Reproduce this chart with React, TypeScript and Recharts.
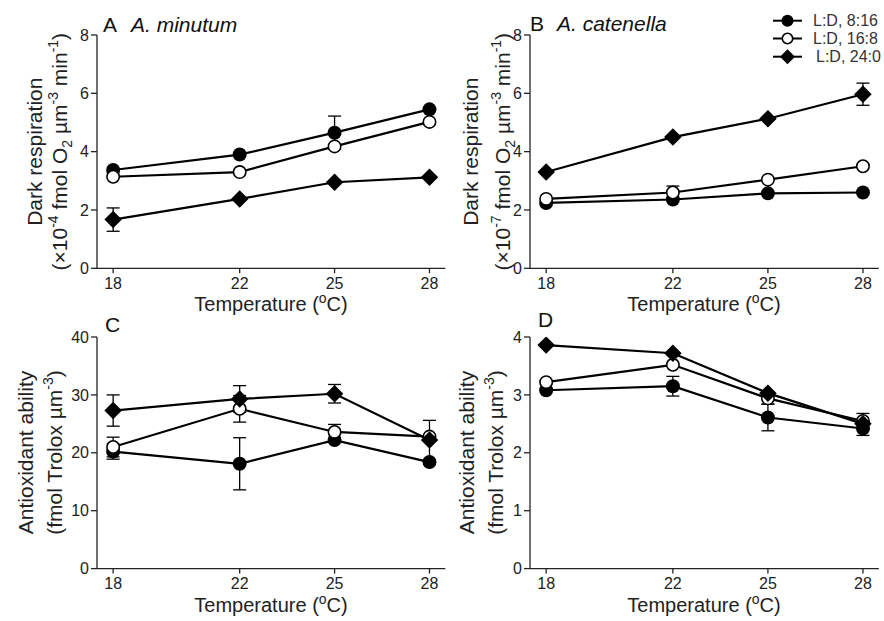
import React from 'react';
import { LineChart, Line, XAxis, YAxis, ErrorBar } from 'recharts';

const FONT = '"Liberation Sans", Arial, sans-serif';

const temps = [18, 22, 25, 28];
const yTicksResp = [0, 2, 4, 6, 8];
const yTicksAntiC = [0, 10, 20, 30, 40];
const yTicksAntiD = [0, 1, 2, 3, 4];

const seriesNames = ['L:D, 8:16', 'L:D, 16:8', 'L:D, 24:0'];
const seriesShapes = ['filled', 'open', 'diamond'];

// A. minutum, dark respiration (x10^-4)
const respMin816 = [3.37, 3.9, 4.65, 5.45];
const respMin168 = [3.14, 3.3, 4.18, 5.02];
const respMin240 = [1.67, 2.38, 2.95, 3.12];
const respMin816Err = [0, 0, 0.57, 0];
const respMin168Err = [0, 0, 0, 0];
const respMin240Err = [0.4, 0, 0, 0];

// A. catenella, dark respiration (x10^-7)
const respCat816 = [2.24, 2.36, 2.57, 2.6];
const respCat168 = [2.38, 2.6, 3.04, 3.5];
const respCat240 = [3.3, 4.5, 5.13, 5.97];
const respCat816Err = [0, 0, 0, 0];
const respCat168Err = [0, 0.22, 0, 0];
const respCat240Err = [0, 0, 0, 0.38];

// A. minutum, antioxidant ability
const antiMin816 = [20.2, 18.1, 22.2, 18.4];
const antiMin168 = [21.0, 27.6, 23.6, 22.8];
const antiMin240 = [27.3, 29.3, 30.2, 22.2];
const antiMin816Err = [1.3, 4.5, 0, 0];
const antiMin168Err = [1.7, 2.3, 1.3, 0];
const antiMin240Err = [2.7, 2.3, 1.6, 3.4];

// A. catenella, antioxidant ability
const antiCat816 = [3.08, 3.15, 2.61, 2.42];
const antiCat168 = [3.22, 3.52, 2.94, 2.55];
const antiCat240 = [3.86, 3.72, 3.03, 2.5];
const antiCat816Err = [0, 0.17, 0.23, 0.12];
const antiCat168Err = [0, 0, 0.1, 0.13];
const antiCat240Err = [0, 0, 0, 0];

function buildRows(vals: number[][], errs: number[][]) {
  return temps.map((t, i) => ({
    t,
    s0: vals[0][i], s1: vals[1][i], s2: vals[2][i],
    e0: errs[0][i], e1: errs[1][i], e2: errs[2][i],
  }));
}

function Marker({ shape, cx, cy, r = 7 }: { shape: string; cx: number; cy: number; r?: number }) {
  if (shape === 'diamond') {
    const h = r * 1.25;
    return <polygon points={`${cx},${cy - h} ${cx + h},${cy} ${cx},${cy + h} ${cx - h},${cy}`} fill="#000" />;
  }
  if (shape === 'open') {
    return <circle cx={cx} cy={cy} r={r - 0.8} fill="#fff" stroke="#000" strokeWidth={1.6} />;
  }
  return <circle cx={cx} cy={cy} r={r} fill="#000" />;
}

const makeDot = (shape: string) => (props: any) => (
  <Marker key={`${shape}-${props.index}`} shape={shape} cx={props.cx} cy={props.cy} />
);

const YW = 60;
const PADT = 15;
const PADR = 15;
const XH = 30;

function Panel({ box, rows, yMax, yTicks }: any) {
  const axisProps = {
    stroke: '#222',
    strokeWidth: 1.3,
    tick: { fill: '#222', fontSize: 16, fontFamily: FONT },
  };
  return (
    <div style={{ position: 'absolute', left: box.x0 - YW, top: box.y0 - PADT }}>
      <LineChart
        width={box.x1 - box.x0 + YW + PADR}
        height={box.y1 - box.y0 + PADT + XH}
        data={rows}
        margin={{ top: PADT, right: PADR, left: 0, bottom: 0 }}
      >
        <XAxis
          dataKey="t"
          type="number"
          domain={[17.49, 28.5]}
          ticks={temps}
          interval={0}
          allowDataOverflow
          height={XH}
          tickSize={5}
          tickMargin={4}
          {...axisProps}
        />
        <YAxis
          type="number"
          domain={[0, yMax]}
          ticks={yTicks}
          interval={0}
          allowDataOverflow
          width={YW}
          tickSize={6}
          tickMargin={2}
          {...axisProps}
        />
        {seriesShapes.map((shape, k) => (
          <Line
            key={shape}
            dataKey={`s${k}`}
            stroke="#000"
            strokeWidth={2.2}
            dot={makeDot(shape)}
            activeDot={false}
            isAnimationActive={false}
          >
            <ErrorBar dataKey={`e${k}`} width={6.5} stroke="#000" strokeWidth={1.3} direction="y" />
          </Line>
        ))}
      </LineChart>
    </div>
  );
}

function TempTitle({ x, y }: { x: number; y: number }) {
  return (
    <text x={x} y={y} textAnchor="middle" fontSize={20} fill="#222">
      Temperature (<tspan fontSize={14} dy={-8}>o</tspan>
      <tspan dy={8}>C)</tspan>
    </text>
  );
}

function RespTitle({ x1, x2, cy, exp }: { x1: number; x2: number; cy: number; exp: string }) {
  return (
    <g fill="#222" fontSize={21}>
      <text x={x1} y={cy} textAnchor="middle" transform={`rotate(-90, ${x1}, ${cy})`}>
        Dark respiration
      </text>
      <text x={x2} y={cy} textAnchor="middle" transform={`rotate(-90, ${x2}, ${cy})`}>
        (×10<tspan fontSize={14} dy={-9}>{exp}</tspan>
        <tspan dy={9}> fmol O</tspan>
        <tspan fontSize={14} dy={5}>2</tspan>
        <tspan dy={-5}> µm</tspan>
        <tspan fontSize={14} dy={-9}>-3</tspan>
        <tspan dy={9}> min</tspan>
        <tspan fontSize={14} dy={-9}>-1</tspan>
        <tspan dy={9}>)</tspan>
      </text>
    </g>
  );
}

function AntiTitle({ x1, x2, cy }: { x1: number; x2: number; cy: number }) {
  return (
    <g fill="#222" fontSize={21}>
      <text x={x1} y={cy} textAnchor="middle" transform={`rotate(-90, ${x1}, ${cy})`}>
        Antioxidant ability
      </text>
      <text x={x2} y={cy} textAnchor="middle" transform={`rotate(-90, ${x2}, ${cy})`}>
        (fmol Trolox µm<tspan fontSize={14} dy={-9}>-3</tspan>
        <tspan dy={9}>)</tspan>
      </text>
    </g>
  );
}

export default function App() {
  const boxA = { x0: 96.7, y0: 35, x1: 445, y1: 268.3 };
  const boxB = { x0: 529.7, y0: 35, x1: 878.5, y1: 268.3 };
  const boxC = { x0: 96.7, y0: 336.7, x1: 445, y1: 568.3 };
  const boxD = { x0: 529.7, y0: 336.7, x1: 878.5, y1: 568.3 };

  const rowsA = buildRows([respMin816, respMin168, respMin240], [respMin816Err, respMin168Err, respMin240Err]);
  const rowsB = buildRows([respCat816, respCat168, respCat240], [respCat816Err, respCat168Err, respCat240Err]);
  const rowsC = buildRows([antiMin816, antiMin168, antiMin240], [antiMin816Err, antiMin168Err, antiMin240Err]);
  const rowsD = buildRows([antiCat816, antiCat168, antiCat240], [antiCat816Err, antiCat168Err, antiCat240Err]);

  const legendY = [20.7, 38.5, 56.7];

  return (
    <div
      style={{
        position: 'absolute', left: 0, top: 0, width: 884, height: 621,
        background: '#fff', fontFamily: FONT, overflow: 'hidden',
      }}
    >
      <Panel box={boxA} rows={rowsA} yMax={8} yTicks={yTicksResp} />
      <Panel box={boxB} rows={rowsB} yMax={8} yTicks={yTicksResp} />
      <Panel box={boxC} rows={rowsC} yMax={40} yTicks={yTicksAntiC} />
      <Panel box={boxD} rows={rowsD} yMax={4} yTicks={yTicksAntiD} />

      <svg width={884} height={621} style={{ position: 'absolute', left: 0, top: 0, pointerEvents: 'none' }}
        fontFamily={FONT}>
        {/* panel labels */}
        <text x={103} y={31.5} fontSize={21} fill="#111">A</text>
        <text x={131} y={31.5} fontSize={21} fill="#111" fontStyle="italic">A. minutum</text>
        <text x={530} y={30.5} fontSize={21} fill="#111">B</text>
        <text x={557} y={30.5} fontSize={21} fill="#111" fontStyle="italic">A. catenella</text>
        <text x={105} y={332} fontSize={21} fill="#111">C</text>
        <text x={538} y={327} fontSize={21} fill="#111">D</text>

        <TempTitle x={271} y={311} />
        <TempTitle x={704} y={311} />
        <TempTitle x={271} y={612} />
        <TempTitle x={704} y={612} />

        <RespTitle x1={42} x2={66.7} cy={151.7} exp="-4" />
        <RespTitle x1={478} x2={510} cy={151.7} exp="-7" />
        <AntiTitle x1={33.3} x2={61.7} cy={452.5} />
        <AntiTitle x1={474} x2={503} cy={452.5} />

        {/* legend */}
        {seriesNames.map((name, k) => (
          <g key={name}>
            <line x1={773} x2={802} y1={legendY[k]} y2={legendY[k]} stroke="#000" strokeWidth={2} />
            <Marker shape={seriesShapes[k]} cx={787.5} cy={legendY[k]} r={6} />
            <text x={k === 2 ? 816 : 813} y={legendY[k] + 5.5} fontSize={16} fill="#333">{name}</text>
          </g>
        ))}
      </svg>
    </div>
  );
}
